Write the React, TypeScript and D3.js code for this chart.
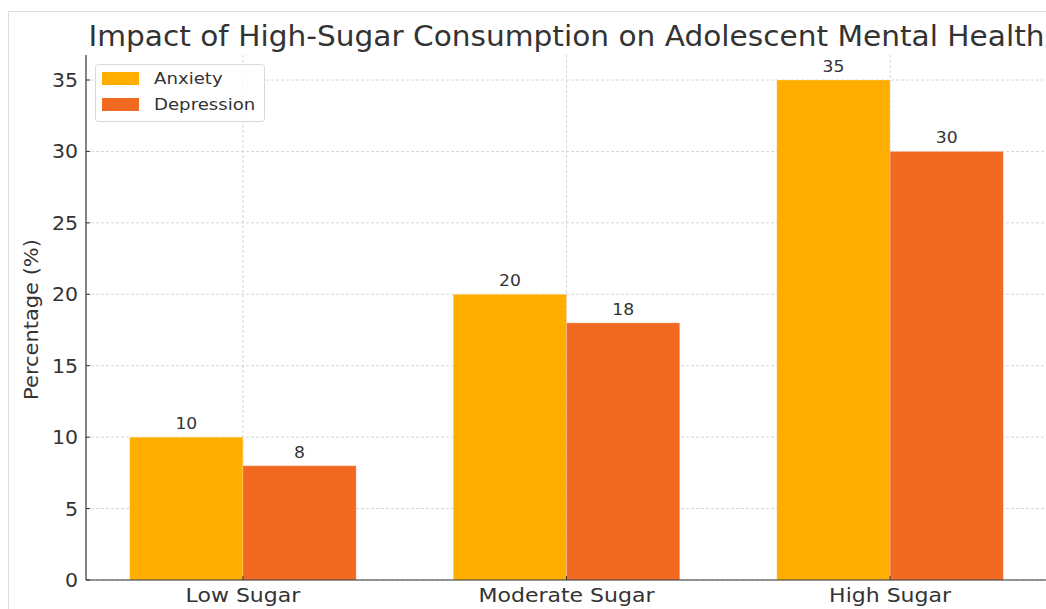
import React from "react";
import * as d3 from "d3";

const categories = ["Low Sugar", "Moderate Sugar", "High Sugar"];
const anxiety = [10, 20, 35];
const depression = [8, 18, 30];
const seriesNames = ["Anxiety", "Depression"];
const seriesColors = ["#FFAE00", "#F26A22"];
const yTicks = [0, 5, 10, 15, 20, 25, 30, 35];
const title = "Impact of High-Sugar Consumption on Adolescent Mental Health";

const W = 1046;
const H = 609;
const left = 86;
const right = 1047;
const top = 55;
const bottom = 580;
const barW = 0.35;
const font = "DejaVu Sans, sans-serif";
const textColor = "#333333";

function T(props: {
  x: number;
  y: number;
  sx?: number;
  rot?: number;
  size: number;
  anchor?: string;
  dy?: string;
  children: React.ReactNode;
}) {
  const { x, y, sx = 1, rot = 0, size, anchor = "start", dy, children } = props;
  return (
    <text
      transform={`translate(${x},${y}) rotate(${rot}) scale(${sx},1)`}
      textAnchor={anchor}
      dy={dy}
      fontSize={size}
      fill={textColor}
    >
      {children}
    </text>
  );
}

export default function App() {
  const x = d3.scaleLinear().domain([-0.485, 2.485]).range([left, right]);
  const y = d3.scaleLinear().domain([0, 36.75]).range([bottom, top]);
  const series = [anxiety, depression];

  return (
    <svg
      width={W}
      height={H}
      style={{ position: "absolute", left: 0, top: 0, background: "#fff" }}
      fontFamily={font}
    >
      <rect x={0} y={0} width={W} height={H} fill="#fff" />
      {/* frame */}
      <line x1={8.5} y1={11} x2={8.5} y2={H} stroke="#dddddd" strokeWidth={1} />
      <line x1={8} y1={11.5} x2={W} y2={11.5} stroke="#dddddd" strokeWidth={1} />

      {/* grid */}
      {yTicks.map((t) => (
        <line
          key={"gy" + t}
          x1={left}
          x2={right}
          y1={y(t)}
          y2={y(t)}
          stroke="#cccccc"
          strokeWidth={0.8}
          strokeDasharray="3,2"
        />
      ))}
      {categories.map((c, i) => (
        <line
          key={"gx" + c}
          x1={x(i)}
          x2={x(i)}
          y1={top}
          y2={bottom}
          stroke="#cccccc"
          strokeWidth={0.8}
          strokeDasharray="3,2"
        />
      ))}

      {/* bars */}
      {series.map((vals, s) =>
        vals.map((v, i) => {
          const x0 = x(i + (s === 0 ? -barW : 0));
          const x1 = x(i + (s === 0 ? 0 : barW));
          return (
            <g key={s + "-" + i}>
              <rect
                x={x0}
                y={y(v)}
                width={x1 - x0}
                height={y(0) - y(v)}
                fill={seriesColors[s]}
                stroke="#ffffff"
                strokeOpacity={0.3}
                strokeWidth={0.8}
              />
              <T x={(x0 + x1) / 2} y={y(v) - 8} size={16.5} sx={1.04} anchor="middle">
                {v}
              </T>
            </g>
          );
        })
      )}

      {/* axes */}
      <line x1={left} x2={left} y1={top} y2={bottom} stroke="#333" strokeWidth={1.2} />
      <line x1={left} x2={right} y1={bottom} y2={bottom} stroke="#333" strokeWidth={1.2} />
      {yTicks.map((t) => (
        <g key={"ty" + t}>
          <line x1={left} x2={left + 4} y1={y(t)} y2={y(t)} stroke="#333" strokeWidth={1} />
          <T x={left - 8} y={y(t)} dy="0.36em" anchor="end" size={19.5} sx={1.05}>
            {t}
          </T>
        </g>
      ))}
      {categories.map((c, i) => (
        <g key={"tx" + c}>
          <line x1={x(i)} x2={x(i)} y1={bottom} y2={bottom - 4} stroke="#333" strokeWidth={1} />
          <T x={x(i)} y={bottom + 22} anchor="middle" size={20} sx={1.1}>
            {c}
          </T>
        </g>
      ))}

      <T x={38} y={(top + bottom) / 2 + 2} rot={-90} anchor="middle" size={19.5} sx={1.075}>
        Percentage (%)
      </T>

      <T x={(left + right) / 2} y={46} anchor="middle" size={27.5} sx={1.077}>
        {title}
      </T>

      {/* legend */}
      <rect
        x={95.5}
        y={64.5}
        width={169}
        height={57}
        rx={3}
        fill="#fff"
        fillOpacity={0.8}
        stroke="#d9d9d9"
        strokeWidth={1}
      />
      {seriesNames.map((n, s) => (
        <g key={n}>
          <rect x={102} y={72 + s * 26} width={37} height={13} fill={seriesColors[s]} />
          <T x={154} y={78.5 + s * 26} dy="0.36em" size={16.5} sx={1.1}>
            {n}
          </T>
        </g>
      ))}
    </svg>
  );
}
